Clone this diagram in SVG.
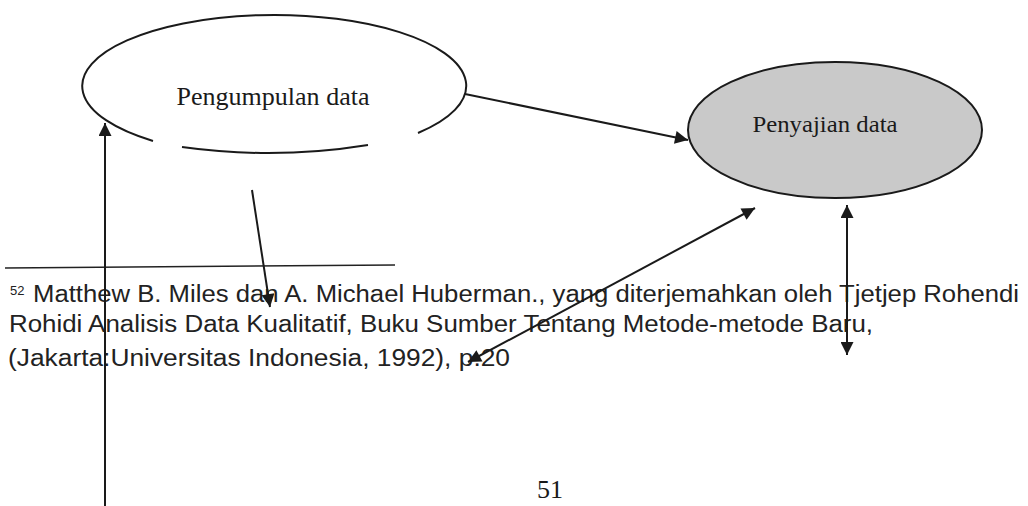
<svg xmlns="http://www.w3.org/2000/svg" width="1028" height="506" viewBox="0 0 1028 506">
  <style>
    .edge { stroke: #1a1a1a; stroke-width: 2; fill: none; }
    .serif { font-family: "Liberation Serif", "DejaVu Serif", serif; fill: #1a1a1a; }
    .sans { font-family: "Liberation Sans", Arial, sans-serif; fill: #222; font-size: 23px; }
  </style>
  <defs>
    <marker id="ahL" viewBox="0 0 10 10" refX="10" refY="5" markerWidth="15" markerHeight="13" markerUnits="userSpaceOnUse" orient="auto-start-reverse">
      <path d="M0,0 L10,5 L0,10 z" fill="#1a1a1a"/>
    </marker>
  </defs>
  <rect width="1028" height="506" fill="#ffffff"/>

  <g id="pengumpulan">
    <path class="edge" d="M153,141 A192,71 0 1 1 418,133"/>
    <path class="edge" d="M182,147 Q275,160 368,145"/>
    <text class="serif" x="273" y="105" font-size="25" text-anchor="middle" textLength="193" lengthAdjust="spacingAndGlyphs">Pengumpulan data</text>
  </g>

  <g id="penyajian">
    <ellipse cx="835" cy="130" rx="147" ry="68" fill="#c9c9c9" stroke="#1a1a1a" stroke-width="2"/>
    <text class="serif" x="825" y="132" font-size="24" text-anchor="middle" textLength="145" lengthAdjust="spacingAndGlyphs">Penyajian data</text>
  </g>

  <g id="footnote">
    <line x1="5" y1="268" x2="395" y2="265" stroke="#222" stroke-width="1.5"/>
    <text class="sans" x="10" y="295" style="font-size:13px">52</text>
    <text class="sans" x="33" y="302" textLength="986" lengthAdjust="spacingAndGlyphs">Matthew B. Miles dan A. Michael Huberman., yang diterjemahkan oleh Tjetjep Rohendi</text>
    <text class="sans" x="9" y="332" textLength="864" lengthAdjust="spacingAndGlyphs">Rohidi Analisis Data Kualitatif, Buku Sumber Tentang Metode-metode Baru,</text>
    <text class="sans" x="8" y="366" textLength="502" lengthAdjust="spacingAndGlyphs">(Jakarta:Universitas Indonesia, 1992), p.20</text>
  </g>

  <g id="page-number">
    <text class="serif" x="550" y="498" font-size="26" text-anchor="middle">51</text>
  </g>

  <g id="connectors">
    <line class="edge" x1="465" y1="94" x2="688" y2="140" marker-end="url(#ahL)"/>
    <line class="edge" x1="105" y1="506" x2="105" y2="123" marker-end="url(#ahL)"/>
    <line class="edge" x1="252" y1="190" x2="270" y2="307" marker-end="url(#ahL)"/>
    <line class="edge" x1="468" y1="362" x2="755" y2="208" marker-start="url(#ahL)" marker-end="url(#ahL)"/>
    <line class="edge" x1="847" y1="205" x2="847" y2="355" marker-start="url(#ahL)" marker-end="url(#ahL)"/>
  </g>
</svg>
